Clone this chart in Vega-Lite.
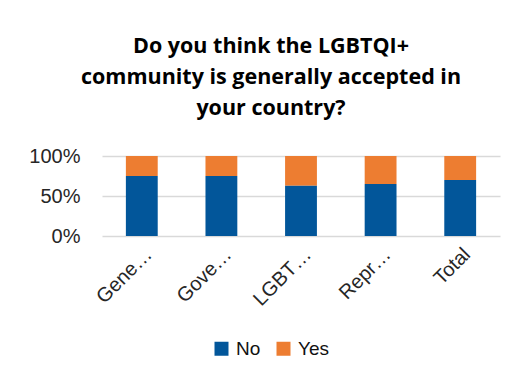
{
  "$schema": "https://vega.github.io/schema/vega-lite/v6.json",
  "autosize": {"type": "none"},
  "width": 398,
  "height": 80,
  "padding": {"left": 102, "top": 156, "right": 24, "bottom": 147},
  "background": "white",
  "title": {
    "text": ["Do you think the LGBTQI+", "community is generally accepted in", "your country?"],
    "font": "Open Sans",
    "fontSize": 21.5,
    "fontWeight": "bold",
    "color": "#000000",
    "lineHeight": 31,
    "anchor": "middle",
    "dx": -30,
    "offset": 27
  },
  "data": {
    "values": [
      {"group": "Gene…", "answer": "No", "pct": 75},
      {"group": "Gene…", "answer": "Yes", "pct": 25},
      {"group": "Gove…", "answer": "No", "pct": 75},
      {"group": "Gove…", "answer": "Yes", "pct": 25},
      {"group": "LGBT…", "answer": "No", "pct": 63},
      {"group": "LGBT…", "answer": "Yes", "pct": 37},
      {"group": "Repr…", "answer": "No", "pct": 65},
      {"group": "Repr…", "answer": "Yes", "pct": 35},
      {"group": "Total", "answer": "No", "pct": 70},
      {"group": "Total", "answer": "Yes", "pct": 30}
    ]
  },
  "mark": {"type": "bar"},
  "encoding": {
    "x": {
      "field": "group",
      "type": "nominal",
      "sort": null,
      "scale": {"paddingInner": 0.6, "paddingOuter": 0.3},
      "axis": {
        "title": null,
        "labelAngle": -45,
        "labelFont": "Liberation Sans",
        "labelFontSize": 20,
        "labelColor": "#262626",
        "labelPadding": 8,
        "ticks": false,
        "domain": false,
        "grid": false
      }
    },
    "y": {
      "field": "pct",
      "type": "quantitative",
      "stack": "normalize",
      "scale": {"domain": [0, 1]},
      "axis": {
        "title": null,
        "values": [0, 0.5, 1],
        "format": ".0%",
        "labelFont": "Liberation Sans",
        "labelFontSize": 20,
        "labelColor": "#262626",
        "labelPadding": 22,
        "ticks": false,
        "domain": false,
        "grid": true,
        "gridColor": "#d9d9d9",
        "gridWidth": 1.5
      }
    },
    "color": {
      "field": "answer",
      "type": "nominal",
      "scale": {"domain": ["No", "Yes"], "range": ["#02569A", "#ED7D31"]},
      "legend": {
        "title": null,
        "orient": "none",
        "legendX": 110,
        "legendY": 183,
        "direction": "horizontal",
        "symbolType": "square",
        "symbolSize": 196,
        "symbolStrokeWidth": 0,
        "labelFont": "Liberation Sans",
        "labelFontSize": 19,
        "labelColor": "#111111",
        "labelOffset": 5,
        "columnPadding": 13,
        "padding": 0
      }
    },
    "order": {"field": "answer", "sort": "ascending"}
  },
  "config": {"view": {"stroke": null}}
}
